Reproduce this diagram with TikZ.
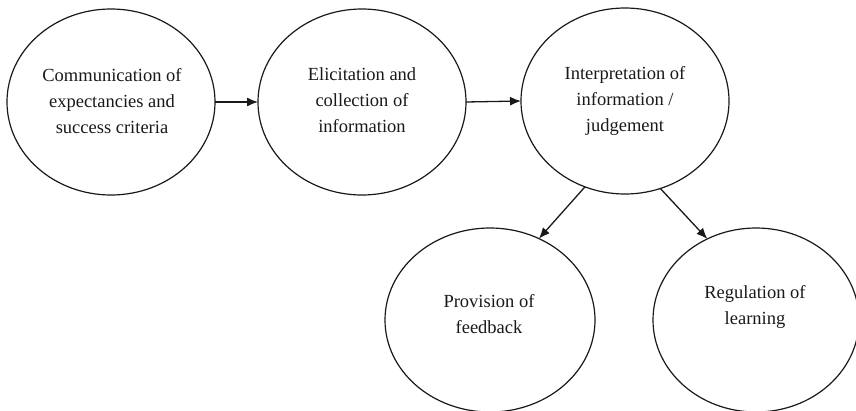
\documentclass[tikz,border=0pt]{standalone}
\usepackage{fontspec}
\setmainfont{Liberation Serif}
\usetikzlibrary{shapes.geometric,arrows.meta}
\begin{document}
\begin{tikzpicture}[x=1pt,y=-1pt,
  bubble/.style={draw=black!90,line width=1.2pt,ellipse,inner sep=0pt,outer sep=0pt,
    minimum width=208pt,minimum height=186pt},
  txt/.style={align=center,font=\fontsize{18.5}{26}\selectfont,text=black!90,inner sep=0pt},
  link/.style={draw=black!90,line width=1.3pt,-{Latex[length=11pt,width=9pt]}}]
\useasboundingbox (0,0) rectangle (856,410);
\node[bubble] (e1) at (111,102) {};
\node[bubble] (e2) at (362,102) {};
\node[bubble] (e3) at (625,101) {};
\node[bubble,minimum width=210pt,minimum height=184pt] (e4) at (490,320) {};
\node[bubble,minimum width=206pt,minimum height=184pt] (e5) at (756,320) {};
\node[txt] (t1) at (112,101) {Communication of\\expectancies and\\success criteria};
\node[txt] (t2) at (362,100) {Elicitation and\\collection of\\information};
\node[txt] (t3) at (625,101) {Interpretation of\\information /\\judgement};
\node[txt] (t4) at (489,314) {Provision of\\feedback};
\node[txt] (t5) at (755,307) {Regulation of\\learning};
\draw[link] (e1.east) -- (e2.west);
\draw[link] (e2.east) -- (e3.west);
\draw[link] (e3.245.8) -- (e4.59);
\draw[link] (e3.292.5) -- (e5.121.3);
\end{tikzpicture}
\end{document}
